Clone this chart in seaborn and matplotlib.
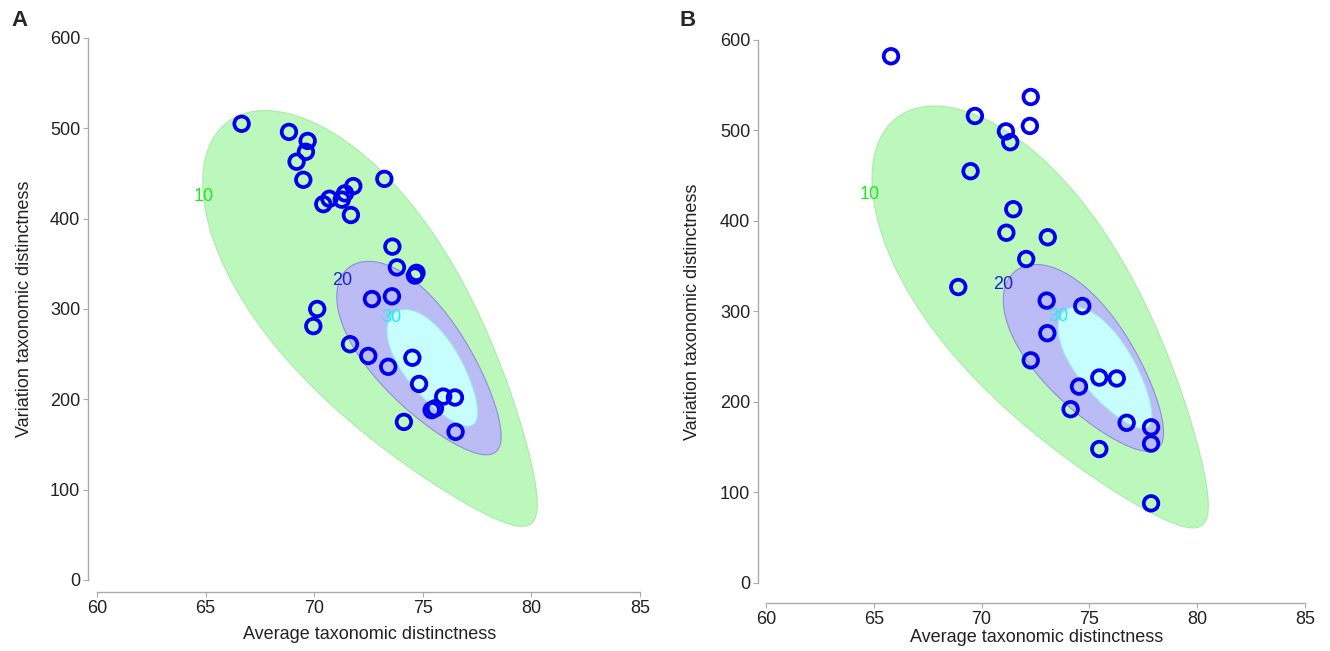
import numpy as np
import pandas as pd
import matplotlib
matplotlib.use("Agg")
import matplotlib.pyplot as plt
import seaborn as sns

# ---------------- data ----------------
# Panel A: (average taxonomic distinctness, variation taxonomic distinctness)
a_avtd = [66.66, 68.84, 69.70, 69.62, 69.19, 69.50, 70.42, 70.70, 71.27, 71.42,
          71.80, 71.69, 73.23, 73.60, 73.81, 74.71, 74.64, 72.66, 73.58, 70.14,
          69.96, 71.65, 72.49, 73.41, 74.52, 74.83, 75.94, 76.48, 75.56, 75.41,
          74.13, 76.51]
a_vartd = [505, 496, 486, 474, 463, 443, 416, 422, 421, 428,
           436, 404, 444, 369, 346, 340, 337, 311, 314, 300,
           281, 261, 248, 236, 246, 217, 203, 202, 190, 188,
           175, 164]

# Panel B
b_avtd = [65.80, 72.28, 69.69, 72.24, 71.13, 71.33, 69.49, 71.47, 71.15, 73.07,
          72.07, 68.92, 73.02, 74.67, 73.05, 72.28, 75.46, 76.27, 74.52, 74.13,
          76.73, 77.86, 77.86, 75.46, 77.86]
b_vartd = [582, 537, 516, 505, 499, 487, 455, 413, 387, 382,
           358, 327, 312, 306, 276, 246, 227, 226, 217, 192,
           177, 172, 154, 148, 88]

# probability contours (levels 10, 20, 30): egg-shaped regions
levels = ["10", "20", "30"]
a_cx = [73.0, 74.97, 75.52]
a_cy = [284.6, 243.6, 234.0]
a_major = [11.6, 5.43, 3.15]
a_minor = [4.3, 2.15, 1.28]
a_angle = [127.0, 128.5, 124.8]
a_egg1 = [0.33, 0.22, 0.18]
a_egg2 = [-0.10, 0.0, 0.0]
a_lab_x = [64.9, 71.3, 73.55]
a_lab_y = [425, 332, 290]

b_cx = [73.15, 74.87, 75.80]
b_cy = [289.0, 246.6, 236.9]
b_major = [11.75, 5.25, 3.3]
b_minor = [4.35, 2.15, 1.28]
b_angle = [127.0, 129.1, 125.3]
b_egg1 = [0.33, 0.22, 0.18]
b_egg2 = [-0.10, 0.0, 0.0]
b_lab_x = [64.8, 71.0, 73.55]
b_lab_y = [429, 330, 294]

x_ticks = [60, 65, 70, 75, 80, 85]
y_ticks = [0, 100, 200, 300, 400, 500, 600]

fill_colors = ["#bcf8bc", "#bbbbf5", "#c8fdfd"]
edge_colors = ["#a8eca8", "#8f8fd8", "#9ee8ee"]
label_colors = ["#1ee81e", "#2020d8", "#1ef0f0"]

# ---------------- style ----------------
sns.set_style("white")
plt.rcParams["font.family"] = ["Liberation Sans", "DejaVu Sans"]

FS = 13

fig = plt.figure(figsize=(13.3, 6.51), dpi=100)
axA = fig.add_axes([0.0729, 0.1091, 0.4083, 0.8326])
axB = fig.add_axes([0.5759, 0.1045, 0.4053, 0.8341])

YSCALE = 24.0  # y units per x unit (makes shapes isotropic on screen)


def egg(cx, cy, a, b, ang, k1, k2):
    t = np.linspace(0, 2 * np.pi, 600)
    s = np.cos(t)
    u = a * s
    v = b * np.sin(t) * (1 + k1 * s + k2 * s ** 2)
    th = np.deg2rad(ang)
    X = cx + u * np.cos(th) - v * np.sin(th)
    Y = cy / YSCALE + u * np.sin(th) + v * np.cos(th)
    return X, Y * YSCALE


def panel(ax, xs, ys, cx, cy, maj, mnr, ang, k1, k2, lx, ly, yout, xout,
          xlab_y, ylab_x):
    for i in range(3):
        X, Y = egg(cx[i], cy[i], maj[i], mnr[i], ang[i], k1[i], k2[i])
        ax.fill(X, Y, facecolor=fill_colors[i], edgecolor=edge_colors[i],
                linewidth=0.8, zorder=1 + i)
        ax.text(lx[i], ly[i], levels[i], color=label_colors[i], fontsize=FS,
                ha="center", va="center", zorder=5)
    df = pd.DataFrame({"avtd": xs, "vartd": ys})
    sns.scatterplot(data=df, x="avtd", y="vartd", ax=ax, s=110,
                    facecolor="none", edgecolor="#0000ee", linewidth=2.7,
                    zorder=10)
    ax.set_xlim(60, 85)
    ax.set_ylim(0, 600)
    ax.set_xticks(x_ticks)
    ax.set_yticks(y_ticks)
    for sp in ["top", "right"]:
        ax.spines[sp].set_visible(False)
    for sp in ["left", "bottom"]:
        ax.spines[sp].set_color("#aaaaaa")
        ax.spines[sp].set_linewidth(1.0)
    ax.spines["left"].set_position(("outward", yout))
    ax.spines["bottom"].set_position(("outward", xout))
    ax.spines["left"].set_bounds(0, 600)
    ax.spines["bottom"].set_bounds(60, 85)
    ax.tick_params(axis="both", length=3.5, width=0.8, color="#aaaaaa",
                   labelsize=FS, labelcolor="#222222", pad=2, direction="out",
                   left=True, bottom=True)
    ax.set_xlabel("Average taxonomic distinctness", fontsize=FS, color="#222222")
    ax.set_ylabel("Variation taxonomic distinctness", fontsize=FS, color="#222222")
    ax.xaxis.set_label_coords(0.503, xlab_y)
    ax.yaxis.set_label_coords(ylab_x, 0.5)
    ax.patch.set_alpha(0)
    ax.grid(False)


panel(axA, a_avtd, a_vartd, a_cx, a_cy, a_major, a_minor, a_angle, a_egg1,
      a_egg2, a_lab_x, a_lab_y, 6.5, 8.6, -0.085, -0.117)
panel(axB, b_avtd, b_vartd, b_cx, b_cy, b_major, b_minor, b_angle, b_egg1,
      b_egg2, b_lab_x, b_lab_y, 5.8, 14.4, -0.085, -0.12)

fig.text(20 / 1330, 1 - 20 / 651, "A", fontsize=16, fontweight="bold",
         ha="center", va="center")
fig.text(688 / 1330, 1 - 20 / 651, "B", fontsize=16, fontweight="bold",
         ha="center", va="center")

fig.savefig("out.png", dpi=100)
